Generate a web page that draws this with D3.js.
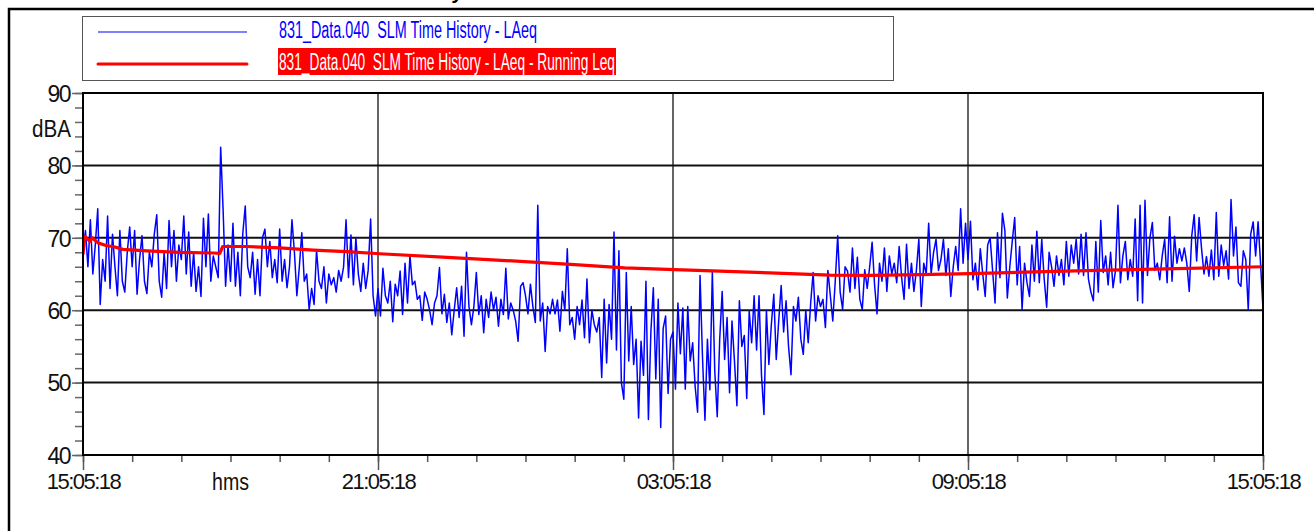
<!DOCTYPE html>
<html>
<head>
<meta charset="utf-8">
<script src="https://cdn.jsdelivr.net/npm/d3@7"></script>
<style>
body { margin: 0; background: #fff; }
text { font-family: Arial, "Liberation Sans", sans-serif; }
.legend-text { white-space: pre; }
</style>
</head>
<body>
<svg id="chart" width="1314" height="531"></svg>
<script>
// one LAeq value every 3 minutes, 20 per hour, starting 15:05:18
let stepMinutes = 3;
let laeq = [
    68, 71, 66, 72.5, 65, 69, 74, 60.8, 67, 64, 73, 63, 70.5, 66, 62, 71, 64, 62.5, 68, 71.5,
    66, 71, 62.2, 67, 70.3, 64, 62.3, 68, 66, 70.5, 73.2, 64, 61.8, 68, 63, 72.4, 66, 71, 64, 69,
    67, 73, 65, 70.8, 63.3, 68, 62.6, 66, 61.9, 72.7, 66, 73.3, 64, 67.5, 66, 64.5, 82.5, 73.8, 63.3, 69,
    64, 72, 63.3, 68, 62, 70.6, 74.4, 66, 64.5, 68, 62.2, 67, 62, 70, 71.2, 66, 69.5, 64.5, 67, 63.8,
    71.2, 64, 67, 63.1, 66, 72.5, 68, 62, 66, 70.7, 64, 65, 60.1, 63, 60.8, 68.3, 64, 63, 66, 61,
    65, 63.5, 64.5, 62.5, 65.5, 64, 66, 72.5, 64.5, 70.4, 63.5, 70, 65, 62.6, 66.5, 63, 65.5, 72.6, 62, 59.2,
    63, 59.2, 65.8, 62, 61, 64, 58.4, 63.6, 62, 65.4, 59.4, 66.5, 61, 67.5, 63.5, 64, 61.5, 62, 58.6, 62.5,
    61.5, 60, 58, 61, 62, 65.9, 59.5, 62.2, 58.3, 61, 56.6, 60, 63.1, 59, 63.3, 56.4, 68, 60.5, 58, 60.5,
    65.2, 59.4, 62, 56.9, 61.5, 59, 62.5, 60, 61.8, 57.8, 61.5, 59.4, 65.8, 58.8, 61, 60, 58.5, 55.7, 63.3, 63.8,
    62, 59.5, 63.6, 60.5, 58.3, 74.5, 58.5, 61, 54.3, 60.5, 59.5, 61.5, 59.5, 61.4, 57.1, 62.6, 60, 68.5, 58, 59,
    56, 60.5, 58, 61.4, 56.2, 64.3, 55.5, 60, 58, 57, 59, 50.7, 61.5, 52.7, 60.8, 56, 70.8, 54.5, 68.2, 50,
    47.7, 65.2, 53, 60.5, 52.5, 56, 45.1, 55.7, 51, 64, 44.9, 57, 63.1, 50.5, 61.5, 43.8, 57.5, 59.2, 48.5, 56,
    57, 49.1, 61, 54, 60.3, 49.1, 60.5, 53, 55.5, 49.5, 45.9, 64.8, 53.5, 44.8, 56, 49, 65.3, 51.5, 45.3, 56,
    62.6, 53.2, 59, 48.6, 58.5, 53, 46.8, 61.3, 55, 56.5, 47.8, 59.9, 55.5, 62, 54.5, 62, 51, 45.6, 60, 52.5,
    58, 62.2, 53.2, 58.5, 63.4, 57, 61.3, 55, 51.1, 60.5, 58.5, 61.8, 56, 53.9, 60, 55.5, 61, 65.2, 58.5, 62,
    60.5, 61.5, 57.6, 65.5, 62, 58.5, 64, 70.3, 62.5, 60.1, 66, 65.4, 62.5, 68.6, 63, 67.3, 61.5, 60.1, 65.6, 63,
    66, 69.4, 63.5, 59.5, 66.5, 64, 68.6, 62.6, 67.5, 65, 66.5, 63.8, 68.8, 64.5, 61.5, 69.1, 63, 66.5, 62.6, 65.5,
    69.8, 60.5, 66.5, 65, 72, 65, 68, 69.8, 65.5, 67, 69.8, 64.8, 68.5, 61.9, 66, 68.8, 65.5, 74, 66.5, 72,
    67, 72.3, 64.2, 66.5, 62.8, 68.5, 65, 61.9, 69, 70, 65.5, 61, 70.7, 64.5, 73.4, 71, 61.7, 66, 69.5, 72.8,
    63.5, 68.8, 60.1, 66.5, 63.8, 61.9, 69, 64, 70.9, 63.8, 69.8, 64.3, 60.4, 68, 66, 63.3, 67.5, 64.8, 67, 63.5,
    69.5, 64.7, 69, 66.5, 69.8, 65, 70.5, 64.8, 70.7, 64.3, 62.5, 61.3, 69.5, 62.5, 72.4, 65.2, 67.5, 63.5, 68, 63.1,
    65.5, 74.5, 63.8, 67.5, 69.5, 64.2, 67, 64.7, 72.6, 61.3, 74.5, 61, 75.2, 64.8, 70, 72.1, 65.5, 66.5, 64.2, 67.5,
    69.8, 63.8, 72.9, 64, 70.2, 66.5, 68.5, 66.8, 68.6, 66.5, 62.6, 70.2, 73.2, 66.8, 72.8, 68.5, 65, 67.4, 64.7, 68.3,
    64.2, 73.5, 64.7, 69, 66.2, 68.2, 64.3, 75.3, 67.5, 71.5, 63.8, 63.3, 68.2, 67, 60.1, 70.5, 72.2, 67.5, 72.2, 66.5,
    60.1
];
// running Leq, read at these minutes after start
let runMinutes = [0, 2.4, 8.5, 11.3, 18.3, 29, 36.6, 48.8, 78, 118, 159, 167, 170.5, 200, 240, 281, 322, 362,
    478, 600, 661, 722, 777, 838, 912, 960, 1021, 1082, 1198, 1320, 1440];
let runLeq = [67.8, 70.2, 69.5, 70.0, 69.3, 68.9, 68.8, 68.4, 68.2, 68.0, 67.9, 67.85, 68.8, 68.8, 68.6, 68.3, 68.1, 67.8,
    67.1, 66.3, 65.85, 65.6, 65.4, 65.15, 64.85, 64.8, 64.9, 65.05, 65.4, 65.7, 66.0];

let majorMinutes = [0, 360, 720, 1080, 1440];
let majorLabels = ["15:05:18", "21:05:18", "03:05:18", "09:05:18", "15:05:18"];
let yMajor = [40, 50, 60, 70, 80, 90];
let legendNames = ["831_Data.040  SLM Time History - LAeq",
    "831_Data.040  SLM Time History - LAeq - Running Leq"];

let svg = d3.select('#chart');
let plotLeft = 83, plotRight = 1263, plotTop = 93, plotBottom = 455;
let x = d3.scaleLinear().domain([0, 1440]).range([plotLeft, plotRight]);
let y = d3.scaleLinear().domain([40, 90]).range([plotBottom, plotTop]);

// page frame and the title, cut off by the top edge as in the source
svg.append('path')
    .attr('d', 'M9,531 V9 H1314')
    .attr('fill', 'none').attr('stroke', '#000').attr('stroke-width', 2.5);
svg.append('text')
    .attr('x', 464).attr('y', -1)
    .attr('text-anchor', 'end')
    .style('font-size', '20px').style('font-weight', 'bold').style('font-style', 'italic')
    .text('Time History');

// legend
svg.append('rect')
    .attr('x', 82.5).attr('y', 16.5).attr('width', 811).attr('height', 64)
    .attr('fill', 'none').attr('stroke', '#555').attr('stroke-width', 1);
svg.append('line')
    .attr('x1', 98).attr('x2', 247).attr('y1', 32).attr('y2', 32)
    .attr('stroke', '#0000ff').attr('stroke-width', 1.2);
svg.append('line')
    .attr('x1', 98).attr('x2', 247).attr('y1', 64).attr('y2', 64)
    .attr('stroke', '#ff0000').attr('stroke-width', 3).attr('stroke-linecap', 'round');
svg.append('text')
    .attr('class', 'legend-text')
    .attr('x', 279).attr('y', 38)
    .attr('textLength', 258).attr('lengthAdjust', 'spacingAndGlyphs')
    .style('font-size', '23px').attr('fill', '#0000ff')
    .text(legendNames[0]);
svg.append('rect')
    .attr('x', 278).attr('y', 48).attr('width', 338).attr('height', 27)
    .attr('fill', '#ff0000');
svg.append('text')
    .attr('class', 'legend-text')
    .attr('x', 279).attr('y', 69.5)
    .attr('textLength', 336).attr('lengthAdjust', 'spacingAndGlyphs')
    .style('font-size', '23px').attr('fill', '#fff')
    .text(legendNames[1]);

// grid
svg.selectAll('.hgrid').data([50, 60, 70, 80]).enter().append('line')
    .attr('class', 'hgrid')
    .attr('x1', plotLeft).attr('x2', plotRight)
    .attr('y1', d => y(d)).attr('y2', d => y(d))
    .attr('stroke', '#111').attr('stroke-width', 2);
svg.selectAll('.vgrid').data(majorMinutes.slice(1, 4)).enter().append('line')
    .attr('class', 'vgrid')
    .attr('x1', d => x(d)).attr('x2', d => x(d))
    .attr('y1', plotTop).attr('y2', plotBottom)
    .attr('stroke', '#111').attr('stroke-width', 1.3);

// y axis
let yMinor = svg.append('g')
    .attr('transform', 'translate(' + plotLeft + ',0)')
    .call(d3.axisLeft(y).tickValues(d3.range(40, 91, 2)).tickSize(8).tickFormat(''));
let yAxis = svg.append('g')
    .attr('transform', 'translate(' + plotLeft + ',0)')
    .call(d3.axisLeft(y).tickValues(yMajor).tickSize(11).tickPadding(2).tickFormat(d3.format('d')));
[yMinor, yAxis].forEach(function (g) {
    g.select('.domain').remove();
    g.selectAll('line').attr('stroke', '#666').attr('stroke-width', 1.5);
});
yAxis.selectAll('text')
    .attr('fill', '#111').attr('dy', '0.36em')
    .style('font-size', '23px').style('letter-spacing', '-1.5px');
svg.append('text')
    .attr('x', 71).attr('y', 137)
    .attr('text-anchor', 'end')
    .attr('textLength', 39).attr('lengthAdjust', 'spacingAndGlyphs')
    .style('font-size', '23px').attr('fill', '#111')
    .text('dBA');

// x axis
let xMinor = svg.append('g')
    .attr('transform', 'translate(0,' + plotBottom + ')')
    .call(d3.axisBottom(x).tickValues(d3.range(0, 1441, 60)).tickSize(7).tickFormat(''));
let xAxis = svg.append('g')
    .attr('transform', 'translate(0,' + plotBottom + ')')
    .call(d3.axisBottom(x).tickValues(majorMinutes).tickSize(15).tickPadding(3)
        .tickFormat((d, i) => majorLabels[i]));
[xMinor, xAxis].forEach(function (g) {
    g.select('.domain').remove();
    g.selectAll('line').attr('stroke', '#555').attr('stroke-width', 1.5);
});
xAxis.selectAll('text')
    .attr('fill', '#111')
    .style('font-size', '22px').style('letter-spacing', '-1.5px');
svg.append('text')
    .attr('x', x(180)).attr('y', 490)
    .attr('text-anchor', 'middle')
    .attr('textLength', 37).attr('lengthAdjust', 'spacingAndGlyphs')
    .style('font-size', '23px').attr('fill', '#111')
    .text('hms');

// data
svg.append('clipPath').attr('id', 'plot-clip')
    .append('rect')
    .attr('x', plotLeft).attr('y', plotTop)
    .attr('width', plotRight - plotLeft).attr('height', plotBottom - plotTop);

let blueLine = d3.line()
    .x((d, i) => x(i * stepMinutes))
    .y(d => y(d));
svg.append('path')
    .datum(laeq)
    .attr('clip-path', 'url(#plot-clip)')
    .attr('d', blueLine)
    .attr('fill', 'none').attr('stroke', '#0000ff').attr('stroke-width', 1.5)
    .attr('stroke-linejoin', 'round');

let redLine = d3.line()
    .x((d, i) => x(runMinutes[i]))
    .y(d => y(d));
svg.append('path')
    .datum(runLeq)
    .attr('clip-path', 'url(#plot-clip)')
    .attr('d', redLine)
    .attr('fill', 'none').attr('stroke', '#ff0000').attr('stroke-width', 3.2)
    .attr('stroke-linejoin', 'round').attr('stroke-linecap', 'round');

// plot border on top
svg.append('rect')
    .attr('x', plotLeft).attr('y', plotTop)
    .attr('width', plotRight - plotLeft).attr('height', plotBottom - plotTop)
    .attr('fill', 'none').attr('stroke', '#000').attr('stroke-width', 2);
</script>
</body>
</html>
